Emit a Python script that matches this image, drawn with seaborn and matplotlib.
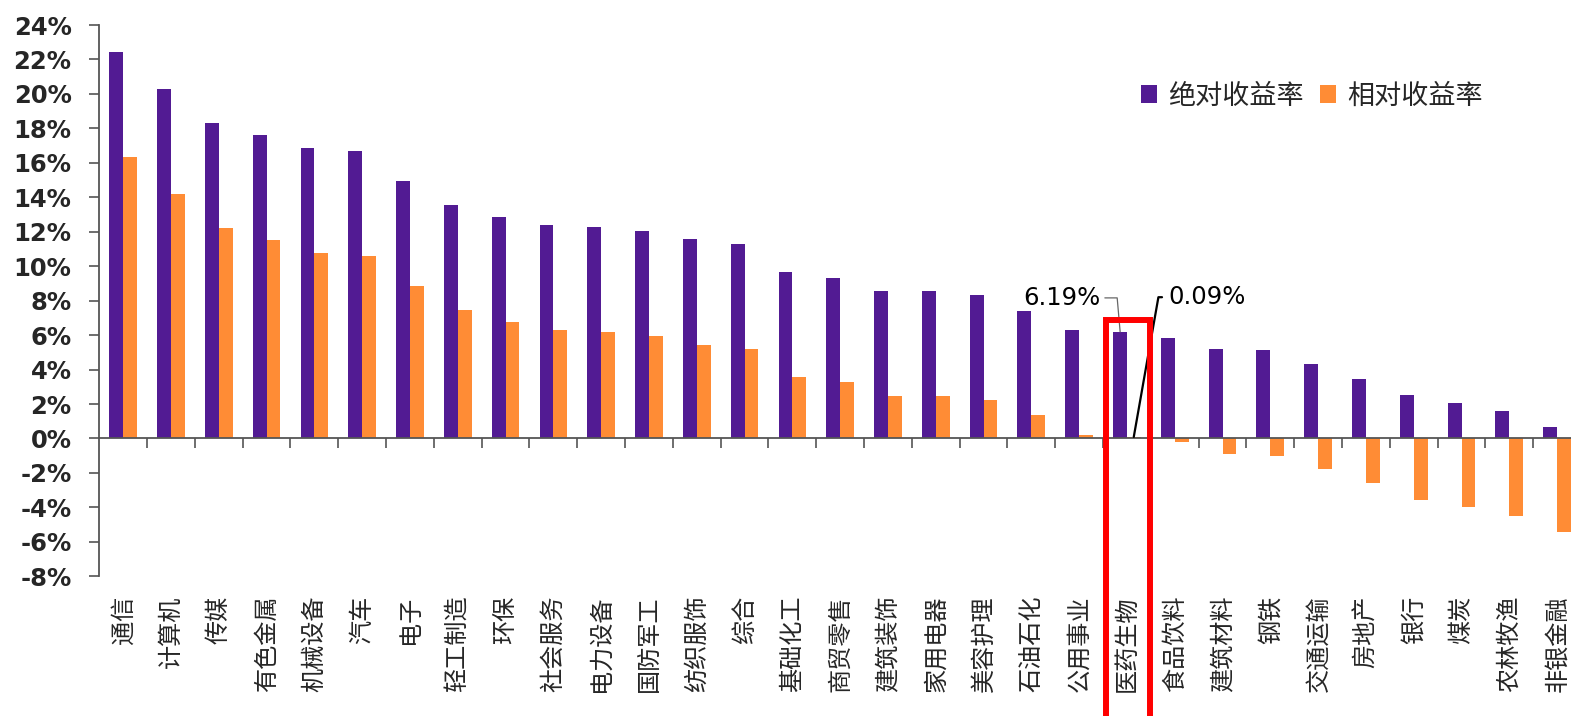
import pandas as pd
import seaborn as sns
import matplotlib.pyplot as plt
from matplotlib.patches import Rectangle

# 行业名称（按绝对收益率排序）
industries = ["通信", "计算机", "传媒", "有色金属", "机械设备", "汽车", "电子", "轻工制造",
              "环保", "社会服务", "电力设备", "国防军工", "纺织服饰", "综合", "基础化工",
              "商贸零售", "建筑装饰", "家用电器", "美容护理", "石油石化", "公用事业",
              "医药生物", "食品饮料", "建筑材料", "钢铁", "交通运输", "房地产", "银行",
              "煤炭", "农林牧渔", "非银金融"]

# 绝对收益率 (%)
abs_return = [22.41, 20.26, 18.31, 17.61, 16.84, 16.70, 14.92, 13.55, 12.88, 12.38,
              12.27, 12.07, 11.55, 11.31, 9.67, 9.34, 8.55, 8.55, 8.35, 7.42, 6.30,
              6.19, 5.85, 5.17, 5.11, 4.32, 3.47, 2.52, 2.07, 1.61, 0.65]

# 相对收益率 (%)
rel_return = [16.32, 14.19, 12.19, 11.53, 10.74, 10.61, 8.84, 7.47, 6.78, 6.28,
              6.16, 5.95, 5.44, 5.21, 3.56, 3.26, 2.44, 2.44, 2.23, 1.34, 0.23,
              0.09, -0.23, -0.91, -0.99, -1.77, -2.58, -3.55, -3.99, -4.48, -5.45]

series_names = ["绝对收益率", "相对收益率"]
colors = ["#521B93", "#FF8C35"]
y_ticks = list(range(-8, 26, 2))
highlight = "医药生物"


def build_frame():
    rows = []
    for name, vals in zip(series_names, [abs_return, rel_return]):
        for cat, v in zip(industries, vals):
            rows.append({"行业": cat, "类型": name, "收益率": v})
    return pd.DataFrame(rows)


def main():
    df = build_frame()

    sns.set_theme(style="white")
    plt.rcParams["font.family"] = ["DejaVu Sans", "Noto Sans CJK SC"]

    fig = plt.figure(figsize=(15.71, 7.16), dpi=100)
    W, H = 1571, 716
    ax = fig.add_axes([99.3 / W, 1 - 576.3 / H, 1 - 99.3 / W, (576.3 - 25) / H])

    sns.barplot(data=df, x="行业", y="收益率", hue="类型", order=industries,
                hue_order=series_names, palette=colors, width=0.58,
                saturation=1, linewidth=0, edgecolor="none", ax=ax)

    n = len(industries)
    ax.set_xlim(-0.5, 30.29)
    ax.set_ylim(-8, 24)
    ax.set_xlabel("")
    ax.set_ylabel("")

    # y axis
    ax.set_yticks(y_ticks)
    ax.set_yticklabels([f"{t}%" for t in y_ticks], fontweight="bold", fontsize=17.5,
                       family="DejaVu Sans")
    ax.tick_params(axis="y", length=7, width=1.2, color="#555555", pad=13, left=True)

    # x axis line at zero with ticks between categories
    for s in ["top", "right"]:
        ax.spines[s].set_visible(False)
    ax.spines["bottom"].set_position(("data", 0))
    for s in ["left", "bottom"]:
        ax.spines[s].set_color("#555555")
        ax.spines[s].set_linewidth(1.3)
    ax.set_xticks(range(n))
    ax.tick_params(axis="x", which="major", length=0, labelbottom=False)
    ax.set_xticks([i + 0.5 for i in range(n - 1)], minor=True)
    ax.tick_params(axis="x", which="minor", bottom=True, length=7, width=1.2,
                   color="#555555", direction="out")

    # category labels below the plot
    sec = ax.secondary_xaxis("bottom")
    sec.set_xticks(range(n), labels=industries)
    sec.tick_params(length=0, pad=14, labelsize=17.4, labelrotation=90)
    for lab in sec.get_xticklabels():
        lab.set_family(["Noto Sans CJK SC", "DejaVu Sans"])
    sec.spines["bottom"].set_visible(False)

    # legend
    handles, labels = ax.get_legend_handles_labels()
    ax.legend(handles, labels, frameon=False, ncol=2, loc="center left",
              bbox_to_anchor=(1141 / W, 1 - 96 / H), bbox_transform=fig.transFigure,
              prop={"family": ["Noto Sans CJK SC"], "size": 19.5},
              handlelength=0.6, handleheight=0.6, handletextpad=0.4,
              columnspacing=0.6, borderpad=0, borderaxespad=0)

    # highlight box and labels
    idx = industries.index(highlight)
    top = 6.88
    ax.add_patch(Rectangle((idx - 0.445, -17), 0.93, top + 17, fill=False,
                           edgecolor="#FF0000", linewidth=4.3, clip_on=False, zorder=5))

    ax.annotate(f"{abs_return[idx]:.2f}%", xy=(idx - 0.1425, abs_return[idx]),
                xytext=(idx - 0.56, 8.16), ha="right", va="center", fontsize=17.5,
                family="DejaVu Sans", color="black",
                arrowprops=dict(arrowstyle="-", color="#666666", lw=0.9,
                                connectionstyle="angle,angleA=0,angleB=95,rad=0",
                                shrinkA=1, shrinkB=0))
    ax.annotate(f"{rel_return[idx]:.2f}%", xy=(idx + 0.1425, rel_return[idx]),
                xytext=(idx + 0.86, 8.2), ha="left", va="center", fontsize=17.5,
                family="DejaVu Sans", color="black",
                arrowprops=dict(arrowstyle="-", color="black", lw=1.6,
                                connectionstyle="angle,angleA=180,angleB=80,rad=0",
                                shrinkA=2, shrinkB=0))

    fig.savefig("out.png", dpi=100)
    plt.close(fig)


if __name__ == "__main__":
    main()
